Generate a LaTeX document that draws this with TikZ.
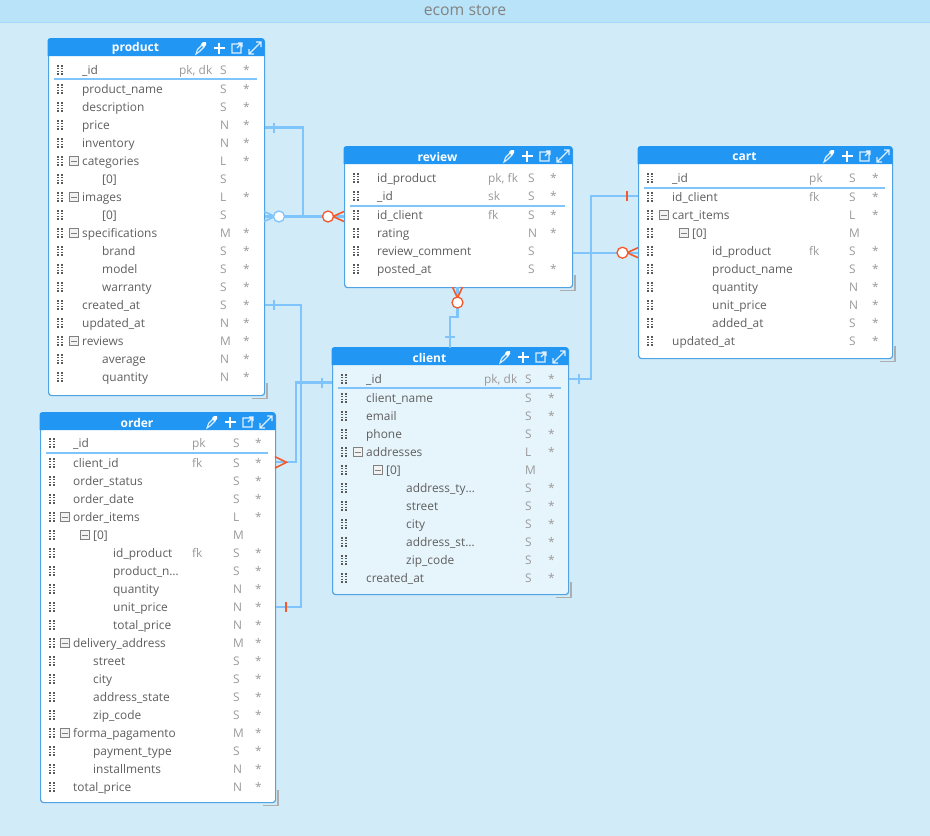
\documentclass[tikz,border=0pt]{standalone}
\usepackage{fontspec}
\setmainfont{Open Sans}
\definecolor{canvasblue}{HTML}{D2EBF8}
\definecolor{barblue}{HTML}{B8E3F8}
\definecolor{headblue}{HTML}{2196F3}
\definecolor{edgeblue}{HTML}{4FA3E3}
\definecolor{linkblue}{HTML}{7FC4FB}
\definecolor{crowred}{HTML}{F4592B}
\definecolor{lightrow}{HTML}{E6F4FB}
\definecolor{fieldgray}{HTML}{5F5F5F}
\definecolor{metagray}{HTML}{9A9A9A}
\tikzset{
  erdbox/.style={draw=edgeblue, line width=1.2pt, rounded corners=3pt, anchor=north west, inner sep=0pt},
  fieldtext/.style={anchor=west, inner sep=0pt, text height=9pt, text depth=3pt, yshift=-1pt, font=\fontsize{11.9}{12}\selectfont},
  fieldname/.style={fieldtext, text=fieldgray},
  fieldmeta/.style={fieldtext, text=metagray},
  grip/.style={draw=black!65, line width=1.6pt, dash pattern=on 1.6pt off 1.2pt},
  toggle/.style={draw=gray, fill=white!90!gray, line width=.6pt, minimum size=9.5pt, inner sep=0pt},
  conn/.style={draw=linkblue, line width=2.2pt},
  crow/.style={draw=crowred, line width=1.6pt},
  zeroblue/.style={circle, draw=linkblue, fill=white, line width=1.3pt, minimum size=11pt, inner sep=0pt},
  zerored/.style={circle, draw=crowred, fill=white, line width=1.3pt, minimum size=11pt, inner sep=0pt},
}
% table frame, header and its four icons: name, title, x1, y1, x2, y2, key line y, fill
\newcommand{\erdtable}[8]{
  \pgfmathsetmacro{\tw}{#5-#3}
  \pgfmathsetmacro{\th}{#6-#4}
  \pgfmathsetmacro{\tmid}{(#3+#5)/2-20.5}
  \pgfmathsetmacro{\thd}{#4+17.5}
  \pgfmathsetmacro{\tcy}{#4+9.5}
  \draw[metagray!80, line width=1.6pt] (#5-12,#6+3.5) -- (#5+3,#6+3.5) -- (#5+3,#6-12);
  \node[erdbox, fill=#8, minimum width=\tw pt, minimum height=\th pt] (#1) at (#3,#4) {};
  \fill[headblue] (#3-.5,\thd) [rounded corners=3pt] -- (#3-.5,#4-.5) -- (#5+.5,#4-.5) [sharp corners] -- (#5+.5,\thd) -- cycle;
  \node[text=white, inner sep=0pt, yshift=-.8pt, font=\fontsize{12}{12}\bfseries] (#1-title) at (\tmid,\tcy) {#2};
  \begin{scope}[shift={(#5-63,\tcy)}, draw=white!85!headblue, line width=1.1pt]
    \draw (-5,6) -- (-3.5,1.5) -- (1,-3) -- (3,-1) -- (-1.5,3.5) -- cycle;
    \fill[white] (0,-4) -- (2,-6) -- (5,-6) -- (5,-3) -- (3,-1) -- cycle;
    \draw[line width=1.6pt, draw=white] (18,-5.5) -- (18,5.5) (12.5,0) -- (23.5,0);
    \draw (40,-4) -- (31,-4) -- (31,5) -- (40,5) -- (40,-4) (36,0) -- (41,-5) (37,-5) -- (41,-5) -- (41,-1);
    \draw (48,6) -- (60,-6) (48,1) -- (48,6) -- (53,6) (55,-6) -- (60,-6) -- (60,-1);
  \end{scope}
  \draw[linkblue, line width=1.5pt] (#3+6,#7) -- (#5-7,#7);
}
% rows: prefix, grip x, name x, key x, type x, star x, list of y/level/toggle/name/key/type/star
\newcommand{\tablerows}[7]{
  \foreach \ry/\lvl/\tog/\fname/\fkey/\ftype/\fstar [count=\i] in {#7} {
    \pgfmathsetmacro{\nx}{#3+20*\lvl}
    \draw[grip] (#2-2.2,\ry-5) -- (#2-2.2,\ry+5);
    \draw[grip] (#2+2.2,\ry-5) -- (#2+2.2,\ry+5);
    \ifnum\tog=1
      \node[toggle] (#1-\i-toggle) at (\nx-8.3,\ry) {};
      \draw[gray, line width=.7pt] (\nx-11.3,\ry) -- (\nx-5.3,\ry);
    \fi
    \node[fieldname] (#1-\i) at (\nx,\ry) {\fname};
    \node[fieldmeta] (#1-\i-key) at (#4,\ry) {\fkey};
    \node[fieldmeta] (#1-\i-type) at (#5,\ry) {\ftype};
    \node[fieldmeta] (#1-\i-star) at (#6,\ry) {\fstar};
  }
}
\begin{document}
\begin{tikzpicture}[x=1pt, y=-1pt]
  \useasboundingbox (0,0) rectangle (930,836);
  \fill[canvasblue] (0,0) rectangle (930,836);
  \fill[barblue] (0,0) rectangle (930,22);
  \draw[linkblue!70, line width=1pt] (0,22) -- (930,22);
  \node[text=metagray!85!black, inner sep=0pt, font=\fontsize{15.8}{16}\selectfont] (storetitle) at (465,10) {ecom store};
  % product
  \erdtable{product}{product}{48}{38.5}{264}{395}{79}{white}
  \tablerows{product}{60}{82}{179}{220}{243}{
    70/0/0/\_id/{pk, dk}/S/*, 89/0/0/product\_name//S/*, 107/0/0/description//S/*,
    125/0/0/price//N/*, 143/0/0/inventory//N/*, 161/0/1/categories//L/*,
    179/1/0/{[0]}//S/, 197/0/1/images//L/*, 215/1/0/{[0]}//S/,
    233/0/1/specifications//M/*, 251/1/0/brand//S/*, 269/1/0/model//S/*,
    287/1/0/warranty//S/*, 305/0/0/created\_at//S/*, 323/0/0/updated\_at//N/*,
    341/0/1/reviews//M/*, 359/1/0/average//N/*, 377/1/0/quantity//N/*}
  % review
  \erdtable{review}{review}{344}{146.5}{572}{287}{206}{white}
  \tablerows{review}{356}{377}{488}{528}{550}{
    178/0/0/id\_product/{pk, fk}/S/*, 196/0/0/\_id/sk/S/*, 215/0/0/id\_client/fk/S/*,
    233/0/0/rating//N/*, 251/0/0/review\_comment//S/, 269/0/0/posted\_at//S/*}
  % cart
  \erdtable{cart}{cart}{638}{146.5}{892}{358}{188}{white}
  \tablerows{cart}{650}{672}{809}{849}{872}{
    178/0/0/\_id/pk/S/*, 197/0/0/id\_client/fk/S/*, 215/0/1/cart\_items//L/*,
    233/1/1/{[0]}//M/, 251/2/0/id\_product/fk/S/*, 269/2/0/product\_name//S/*,
    287/2/0/quantity//N/*, 305/2/0/unit\_price//N/*, 323/2/0/added\_at//S/*,
    341/0/0/updated\_at//S/*}
  % client
  \erdtable{client}{client}{332}{347.5}{568}{594}{388}{lightrow}
  \tablerows{client}{344}{366}{484}{525}{548}{
    379/0/0/\_id/{pk, dk}/S/*, 398/0/0/client\_name//S/*, 416/0/0/email//S/*,
    434/0/0/phone//S/*, 452/0/1/addresses//L/*, 470/1/1/{[0]}//M/,
    488/2/0/address\_ty\dots//S/*, 506/2/0/street//S/*, 524/2/0/city//S/*,
    542/2/0/address\_st\dots//S/*, 560/2/0/zip\_code//S/*, 578/0/0/created\_at//S/*}
  % order
  \erdtable{order}{order}{40}{412.5}{275}{802}{453}{white}
  \tablerows{order}{52}{73}{192}{233}{255}{
    443/0/0/\_id/pk/S/*, 463/0/0/client\_id/fk/S/*, 481/0/0/order\_status//S/*,
    499/0/0/order\_date//S/*, 517/0/1/order\_items//L/*, 535/1/1/{[0]}//M/,
    553/2/0/id\_product/fk/S/*, 571/2/0/product\_n\dots//S/*, 589/2/0/quantity//N/*,
    607/2/0/unit\_price//N/*, 625/2/0/total\_price//N/*, 643/0/1/delivery\_address//M/*,
    661/1/0/street//S/*, 679/1/0/city//S/*, 697/1/0/address\_state//S/*,
    715/1/0/zip\_code//S/*, 733/0/1/forma\_pagamento//M/*, 751/1/0/payment\_type//S/*,
    769/1/0/installments//N/*, 787/0/0/total\_price//N/*}
  % connector ends
  \coordinate (productPrice) at (product.east |- 0,127.5);
  \coordinate (productImages) at (product.east |- 0,216.5);
  \coordinate (productCreated) at (product.east |- 0,305);
  \coordinate (reviewProduct) at (review.west |- 0,216.5);
  \coordinate (reviewCart) at (review.east |- 0,252.7);
  \coordinate (reviewClient) at (457.5,287);
  \coordinate (clientReview) at (450,348);
  \coordinate (clientOrder) at (client.west |- 0,382.5);
  \coordinate (clientCart) at (client.east |- 0,378.7);
  \coordinate (cartClient) at (cart.west |- 0,195.7);
  \coordinate (cartReview) at (cart.west |- 0,252.7);
  \coordinate (orderClient) at (order.east |- 0,462.3);
  \coordinate (orderProduct) at (order.east |- 0,607);
  % product to review
  \draw[conn] (productPrice) -| (303,216.5);
  \draw[conn] (274,122.5) -- (274,132.5);
  \draw[conn] (productImages) -- (reviewProduct);
  \draw[conn, line width=1.6pt] (275,216.5) -- (264,211.5) (275,216.5) -- (264,221.5);
  \draw[crow] (333,216.5) -- (344,211.5) (333,216.5) -- (344,221.5);
  \node[zeroblue] (productZero) at (279,216.5) {};
  \node[zerored] (reviewZero) at (328,216.5) {};
  % review to cart
  \draw[conn] (reviewCart) -- (cartReview);
  \draw[crow] (627,252.7) -- (638,247.7) (627,252.7) -- (638,257.7);
  \node[zerored] (cartZero) at (622.5,252.7) {};
  % review to client
  \draw[conn] (reviewClient) -- (457.5,317) -- (450,317) -- (clientReview);
  \draw[conn] (445,337) -- (455,337);
  \draw[crow] (457.5,298) -- (452.5,287) (457.5,298) -- (462.5,287);
  \node[zerored] (clientZero) at (457.5,302.5) {};
  % client to cart
  \draw[conn] (clientCart) -| (591,195.7) -- (cartClient);
  \draw[conn] (579,374) -- (579,384);
  \draw[crow] (627,190.7) -- (627,200.7);
  % product to order
  \draw[conn] (productCreated) -| (301,607) -- (orderProduct);
  \draw[conn] (274,300) -- (274,310);
  \draw[crow] (286,602) -- (286,612);
  % client to order
  \draw[conn] (clientOrder) -| (296,462.3) -- (orderClient);
  \draw[conn] (322,377.5) -- (322,387.5);
  \draw[crow] (275,456.7) -- (286.5,462.3) -- (275,468);
\end{tikzpicture}
\end{document}
